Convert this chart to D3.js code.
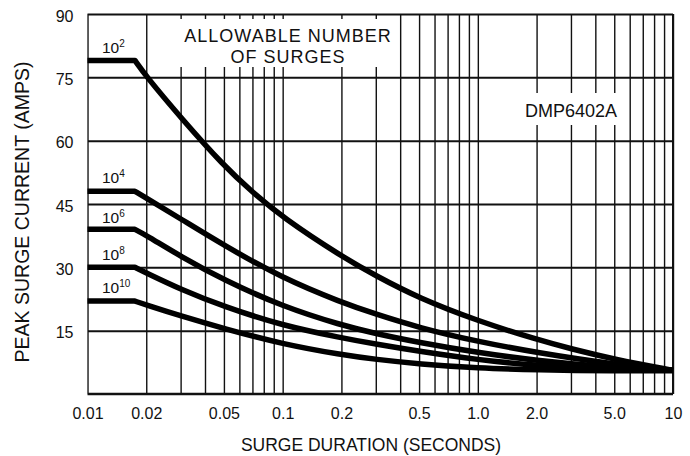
<!DOCTYPE html>
<html>
<head>
<meta charset="utf-8">
<script src="https://cdn.jsdelivr.net/npm/d3@7"></script>
<style>
  body { margin: 0; background: #fff; }
  text { font-family: "Liberation Sans", Arial, Helvetica, sans-serif; fill: #111; }
</style>
</head>
<body>
<svg id="chart" width="690" height="456"></svg>
<script>

// axis ticks
var X_LABEL_VALUES = [0.01, 0.02, 0.05, 0.1, 0.2, 0.5, 1, 2, 5, 10];
var X_LABELS = ["0.01", "0.02", "0.05", "0.1", "0.2", "0.5", "1.0", "2.0", "5.0", "10"];
var Y_TICKS = [15, 30, 45, 60, 75, 90];

// allowable number of surges (exponent of 10), one per curve
var EXPONENTS = ["2", "4", "6", "8", "10"];

// curves: [surge duration (s), peak current (A)]
var SURGES_E2 = [[0.01, 79], [0.0175, 79], [0.02, 75.2], [0.03, 65.5], [0.05, 54], [0.07, 47.8],
                 [0.1, 41.8], [0.2, 32.6], [0.3, 28], [0.5, 22.7], [1, 17.3], [2, 12.9],
                 [3, 10.7], [5, 8.2], [10, 5.6]];
var SURGES_E4 = [[0.01, 48], [0.0175, 48], [0.02, 46.4], [0.03, 41.5], [0.05, 35.2], [0.1, 27.4],
                 [0.2, 21.7], [0.3, 18.9], [0.5, 15.7], [1, 12.4], [2, 9.8], [5, 7], [10, 5.6]];
var SURGES_E6 = [[0.01, 39], [0.0175, 39], [0.02, 37.6], [0.03, 32.6], [0.05, 27], [0.1, 20.7],
                 [0.2, 16.3], [0.3, 14.3], [0.5, 12.2], [1, 9.8], [2, 7.9], [5, 6.2], [10, 5.6]];
var SURGES_E8 = [[0.01, 30], [0.0175, 30], [0.02, 28.7], [0.03, 24.8], [0.05, 20.7], [0.1, 16.2],
                 [0.2, 13.3], [0.3, 11.8], [0.5, 10.1], [1, 8.1], [2, 6.7], [5, 5.8], [10, 5.6]];
var SURGES_E10 = [[0.01, 22], [0.0175, 22], [0.02, 21.1], [0.03, 18.5], [0.05, 15.5], [0.1, 11.8],
                  [0.2, 9.3], [0.3, 8.2], [0.5, 7.1], [1, 6.1], [2, 5.7], [5, 5.45], [10, 5.5]];

var CURVES = [SURGES_E2, SURGES_E4, SURGES_E6, SURGES_E8, SURGES_E10];

var LEFT = 87.5, RIGHT = 673, TOP = 14, BOTTOM = 394;

var svg = d3.select("#chart");

var x = d3.scaleLog().domain([0.01, 10]).range([LEFT, RIGHT]);
var y = d3.scaleLinear().domain([0, 90]).range([BOTTOM, TOP]);

// vertical grid (1..9 per decade) + x labels
var xAxis = d3.axisBottom(x)
              .tickValues(x.ticks())
              .tickSize(-(BOTTOM - TOP))
              .tickPadding(14)
              .tickFormat(function(d) {
                  var i = X_LABEL_VALUES.findIndex(function(v) { return Math.abs(v - d) < 1e-9; });
                  return i < 0 ? "" : X_LABELS[i];
              });

var gx = svg.append("g")
            .attr("transform", "translate(0," + BOTTOM + ")")
            .call(xAxis);
gx.select(".domain").remove();
gx.selectAll(".tick line").attr("stroke", "#111").attr("stroke-width", 1.4);
gx.selectAll(".tick text").attr("font-size", "16px").attr("fill", "#111")
  .attr("font-family", "Liberation Sans, Arial, sans-serif");

// horizontal grid + y labels
var yAxis = d3.axisLeft(y)
              .tickValues(Y_TICKS)
              .tickSize(-(RIGHT - LEFT))
              .tickPadding(14);

var gy = svg.append("g")
            .attr("transform", "translate(" + LEFT + ",0)")
            .call(yAxis);
gy.select(".domain").remove();
gy.selectAll(".tick line").attr("stroke", "#111").attr("stroke-width", 2);
gy.selectAll(".tick text").attr("font-size", "16px").attr("fill", "#111").attr("dy", "0.45em")
  .attr("font-family", "Liberation Sans, Arial, sans-serif");

// frame
svg.append("line").attr("x1", LEFT).attr("x2", RIGHT).attr("y1", BOTTOM).attr("y2", BOTTOM)
   .attr("stroke", "#111").attr("stroke-width", 2.5);
svg.append("line").attr("x1", LEFT).attr("x2", LEFT).attr("y1", TOP).attr("y2", BOTTOM)
   .attr("stroke", "#666").attr("stroke-width", 1);
svg.append("line").attr("x1", RIGHT).attr("x2", RIGHT).attr("y1", TOP).attr("y2", BOTTOM)
   .attr("stroke", "#111").attr("stroke-width", 2);

// blank areas behind the notes
svg.append("rect").attr("x", 178).attr("y", 19).attr("width", 216).attr("height", 48).attr("fill", "#fff");
svg.append("rect").attr("x", 520).attr("y", 93).attr("width", 106).attr("height", 32).attr("fill", "#fff");

// curves: flat part drawn straight, the fall smoothed
var line = d3.line()
             .x(function(d) { return x(d[0]); })
             .y(function(d) { return y(d[1]); })
             .curve(d3.curveBasis);

CURVES.forEach(function(c) {
  var fall = line(c.slice(1)).replace(/^M/, "L");
  svg.append("path")
     .attr("d", "M" + x(c[0][0]) + "," + y(c[0][1]) + fall)
     .attr("fill", "none")
     .attr("stroke", "#000")
     .attr("stroke-width", 5.5)
     .attr("stroke-linejoin", "round");
});

// curve labels 10^n
var LABEL_Y = [53, 183, 223, 260, 293];
EXPONENTS.forEach(function(e, i) {
  var t = svg.append("text")
             .attr("x", 102)
             .attr("y", LABEL_Y[i])
             .attr("font-size", "15.5px");
  t.append("tspan").text("10");
  t.append("tspan").attr("font-size", "10px").attr("dy", "-6").text(e);
});

// top title
svg.append("text").attr("x", 288).attr("y", 42).attr("text-anchor", "middle")
   .attr("font-size", "18px").attr("letter-spacing", "1px").text("ALLOWABLE NUMBER");
svg.append("text").attr("x", 288).attr("y", 63).attr("text-anchor", "middle")
   .attr("font-size", "18px").attr("letter-spacing", "1px").text("OF SURGES");

// part number
svg.append("text").attr("x", 525).attr("y", 117)
   .attr("font-size", "18px").text("DMP6402A");

// axis titles
svg.append("text").attr("x", 371).attr("y", 451).attr("text-anchor", "middle")
   .attr("font-size", "17.5px").text("SURGE DURATION (SECONDS)");
svg.append("text").attr("transform", "translate(29,212) rotate(-90)")
   .attr("text-anchor", "middle")
   .attr("font-size", "19.5px").text("PEAK SURGE CURRENT (AMPS)");

</script>
</body>
</html>
